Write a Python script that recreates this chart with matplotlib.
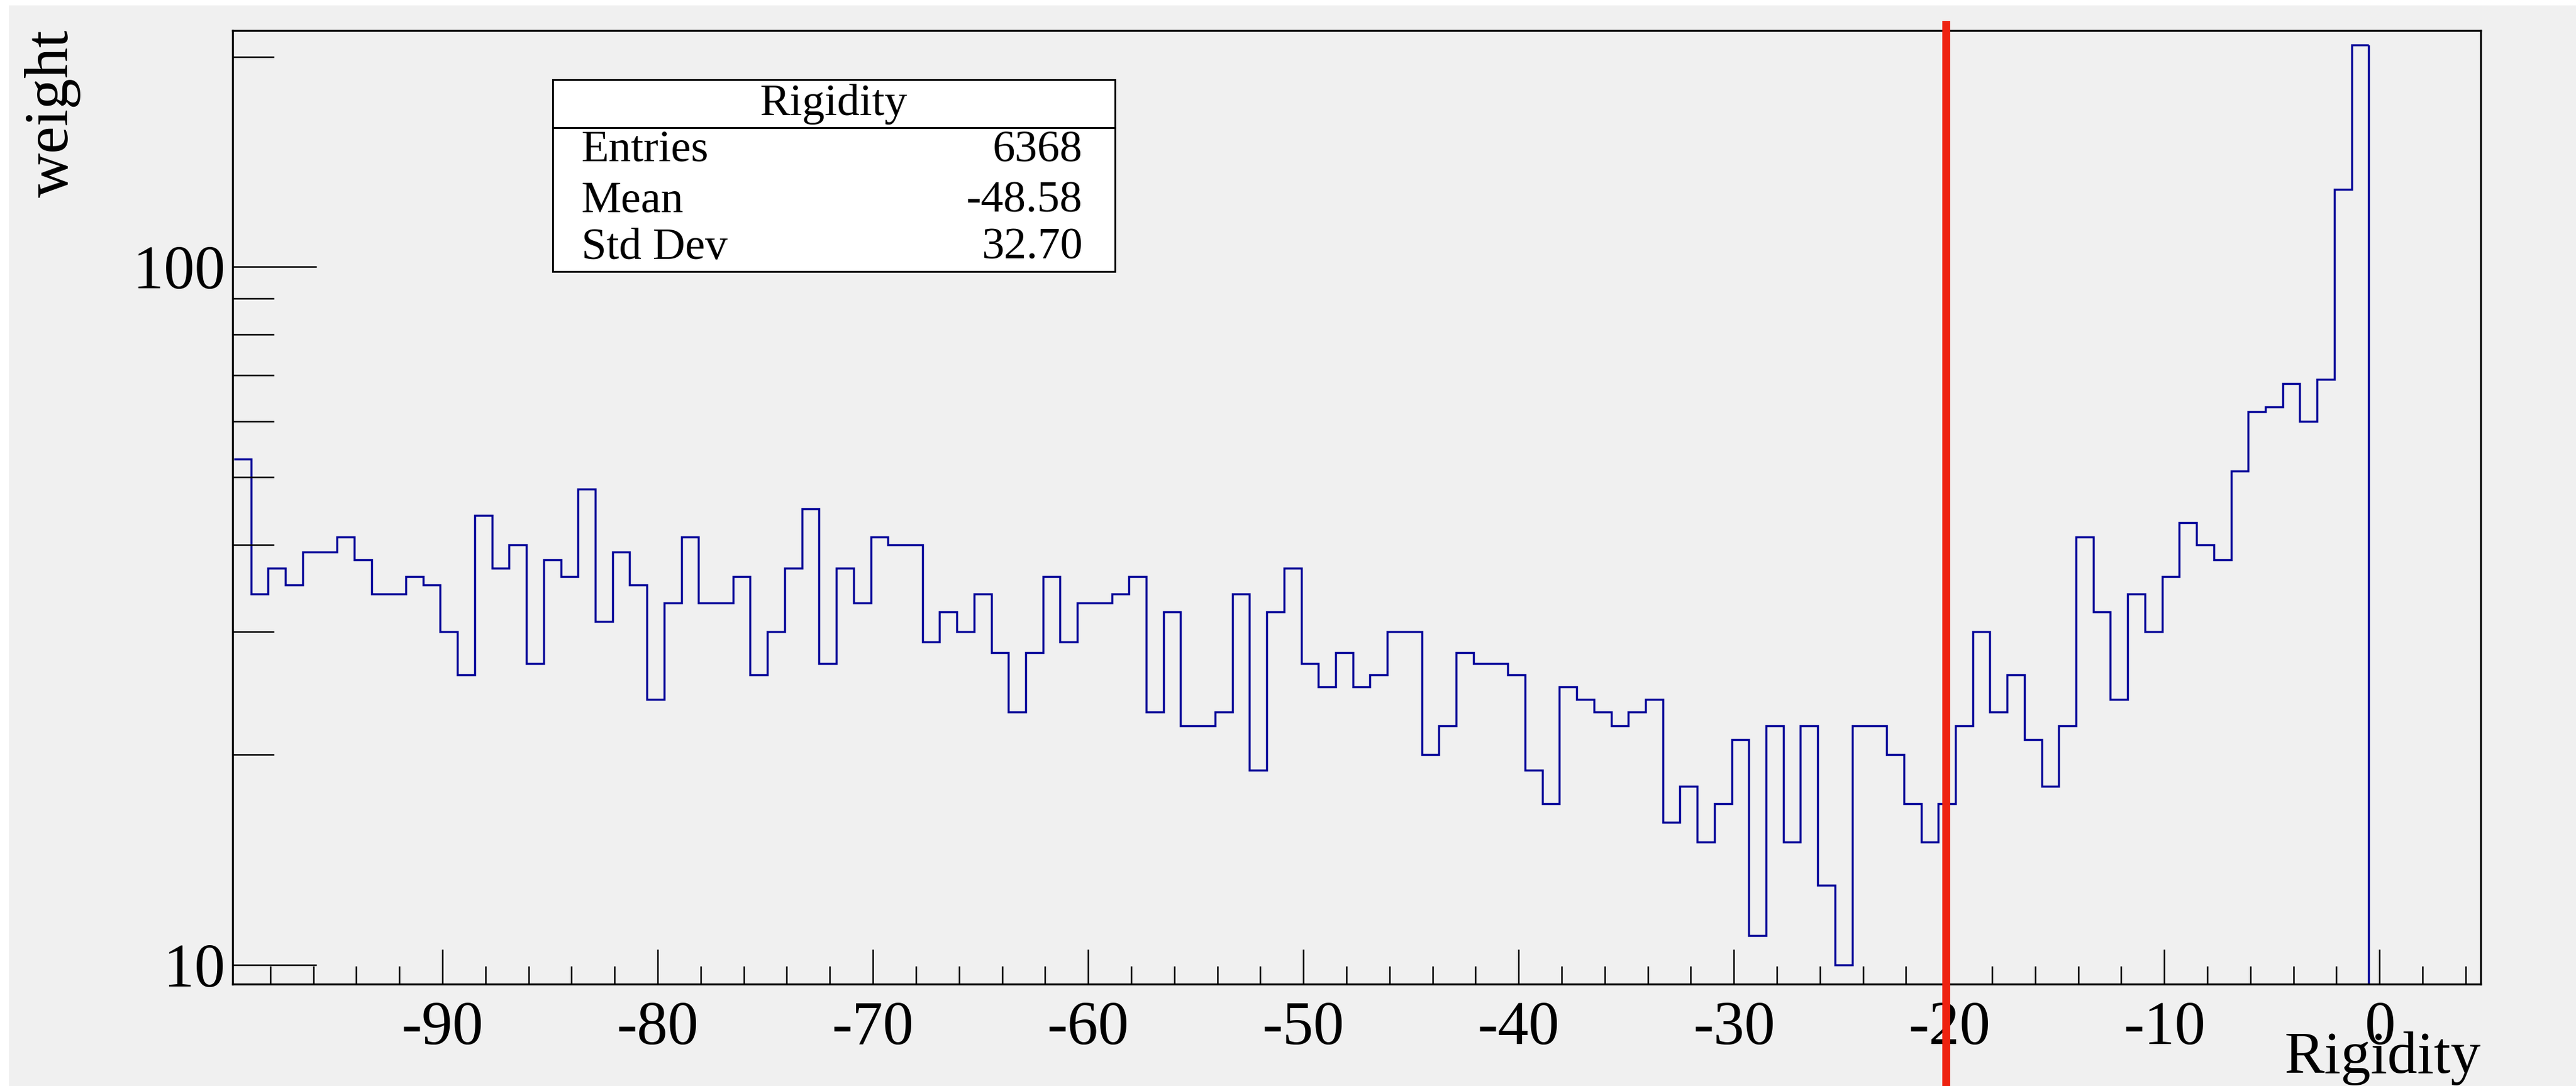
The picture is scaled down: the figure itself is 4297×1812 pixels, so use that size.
import numpy as np
import matplotlib
matplotlib.use('Agg')
import matplotlib.pyplot as plt
from matplotlib.patches import Rectangle
from matplotlib.lines import Line2D

plt.rcParams['font.family'] = ['Liberation Serif', 'DejaVu Serif']
plt.rcParams['axes.unicode_minus'] = False

# histogram contents (weight per bin)
weights = [53, 34, 37, 35, 39, 39, 41, 38, 34, 34,
           36, 35, 30, 26, 44, 37, 40, 27, 38, 36,
           48, 31, 39, 35, 24, 33, 41, 33, 33, 36,
           26, 30, 37, 45, 27, 37, 33, 41, 40, 40,
           29, 32, 30, 34, 28, 23, 28, 36, 29, 33,
           33, 34, 36, 23, 32, 22, 22, 23, 34, 19,
           32, 37, 27, 25, 28, 25, 26, 30, 30, 20,
           22, 28, 27, 27, 26, 19, 17, 25, 24, 23,
           22, 23, 24, 16, 18, 15, 17, 21, 11, 22,
           15, 22, 13, 10, 22, 22, 20, 17, 15, 17,
           22, 30, 23, 26, 21, 18, 22, 41, 32, 24,
           34, 30, 36, 43, 40, 38, 51, 62, 63, 68,
           60, 69, 129, 208]
bin_lo = -99.7
bin_w = 0.8

x_major = [-90, -80, -70, -60, -50, -40, -30, -20, -10, 0]
x_labels = ['-90', '-80', '-70', '-60', '-50', '-40', '-30', '-20', '-10', '0']
x_minor = [-98, -96, -94, -92, -88, -86, -84, -82, -78, -76, -74, -72,
           -68, -66, -64, -62, -58, -56, -54, -52, -48, -46, -44, -42,
           -38, -36, -34, -32, -28, -26, -24, -22, -18, -16, -14, -12,
           -8, -6, -4, -2, 2, 4]
y_major = [10, 100]
y_labels = ['10', '100']
y_minor = [20, 30, 40, 50, 60, 70, 80, 90, 200]

stats_title = 'Rigidity'
stats_names = ['Entries', 'Mean', 'Std Dev']
stats_values = ['6368', '-48.58', '32.70']

cut_value = -20.15

BG = '#f0f0f0'
W, H = 4297, 1812

fig = plt.figure(figsize=(W / 100, H / 100), dpi=100, facecolor='white')
fig.patches.append(Rectangle((15 / W, 0), 1, 1 - 9 / H, transform=fig.transFigure,
                             facecolor=BG, edgecolor='none', zorder=-10))

ax = fig.add_axes([388 / W, 1 - 1642 / H, (4138 - 388) / W, (1642 - 51) / H])
ax.set_facecolor(BG)
ax.set_yscale('log')
ax.set_xlim(-99.75, 4.7)
ax.set_ylim(9.38, 218)

edges = bin_lo + bin_w * np.arange(len(weights) + 1)
ax.stairs(weights, edges, baseline=None, color='#000099', lw=2.5)
ax.vlines(edges[-1], ax.get_ylim()[0], weights[-1], color='#000099', lw=2.5)

ax.set_xticks(x_major, labels=x_labels)
ax.set_xticks(x_minor, minor=True)
ax.set_yticks(y_major, labels=y_labels)
ax.set_yticks(y_minor, minor=True)
ax.yaxis.set_minor_formatter(matplotlib.ticker.NullFormatter())

ax.tick_params(axis='both', which='both', direction='in', top=False, right=False,
               width=1.8, color='black')
ax.tick_params(axis='x', which='major', length=42, labelsize=74, pad=20)
ax.tick_params(axis='x', which='minor', length=21.6)
ax.tick_params(axis='y', which='major', length=101, labelsize=74, pad=9)
ax.tick_params(axis='y', which='minor', length=50)
for sp in ax.spines.values():
    sp.set_linewidth(2.4)

fig.text(88 / W, 1 - 49 / H, 'weight', rotation=90, ha='center', va='top', fontsize=74)
fig.text(4138 / W, 1 - 1790 / H, 'Rigidity', ha='right', va='baseline', fontsize=72)

# stats box
bx0, bx1 = 922 / W, 1860 / W
by0, by1 = 1 - 453 / H, 1 - 133 / H
fig.patches.append(Rectangle((bx0, by0), bx1 - bx0, by1 - by0, transform=fig.transFigure,
                             facecolor='white', edgecolor='black', lw=2.2, zorder=10))
fig.lines.append(Line2D([bx0, bx1], [1 - 212.7 / H] * 2, transform=fig.transFigure,
                        color='black', lw=2.2, zorder=11))
fig.text((bx0 + bx1) / 2, 1 - 192 / H, stats_title, ha='center', va='baseline',
         fontsize=54, zorder=12)
for name, val, base in zip(stats_names, stats_values, [270, 353, 432]):
    fig.text(970 / W, 1 - base / H, name, ha='left', va='baseline', fontsize=54, zorder=12)
    fig.text(1805.6 / W, 1 - base / H, val, ha='right', va='baseline', fontsize=54, zorder=12)

# hand-drawn cut marker
ax.axvline(cut_value, ymin=-0.107, ymax=1.006, color='#ee2210', lw=9.5,
           clip_on=False, zorder=20)

fig.savefig('out.png', dpi=100, facecolor=fig.get_facecolor())
